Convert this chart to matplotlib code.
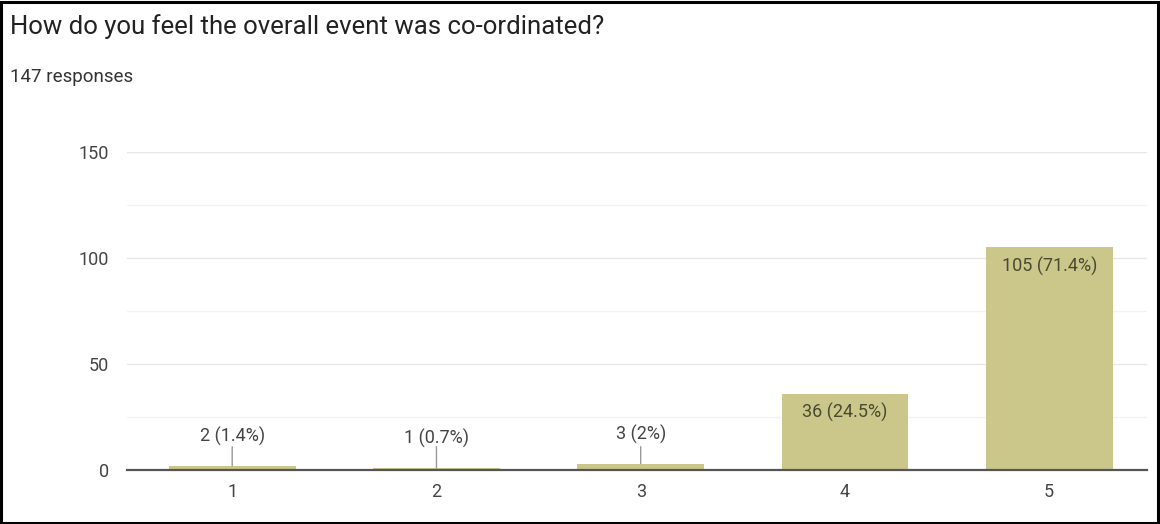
import matplotlib
matplotlib.use("Agg")
import matplotlib.pyplot as plt
from matplotlib.patches import Rectangle

title = "How do you feel the overall event was co-ordinated?"
subtitle = "147 responses"
categories = ["1", "2", "3", "4", "5"]
counts = [2, 1, 3, 36, 105]
labels = ["2 (1.4%)", "1 (0.7%)", "3 (2%)", "36 (24.5%)", "105 (71.4%)"]
yticks = [0, 50, 100, 150]

plt.rcParams['font.family'] = ['Roboto', 'DejaVu Sans']

fig = plt.figure(figsize=(11.6, 5.24), dpi=100)
fig.patch.set_facecolor("white")
ax = fig.add_axes([0.1095, 0.103, 0.8795, 0.607])

x = list(range(len(categories)))
bar_color = "#cbc78b"
ax.bar(x, counts, width=0.62, color=bar_color, zorder=2)

ax.set_xlim(-0.515, 4.48)
ax.set_ylim(0, 150)
ax.set_yticks(yticks)
ax.set_yticks([25, 75, 125], minor=True)
ax.grid(axis='y', which='major', color='#e6e6e6', linewidth=1, zorder=0)
ax.grid(axis='y', which='minor', color='#f2f2f2', linewidth=1, zorder=0)
ax.set_xticks(x)
ax.set_xticklabels(categories)
ax.tick_params(axis='both', which='both', length=0, labelsize=13, colors='#444444')
ax.tick_params(axis='y', pad=13)
ax.tick_params(axis='x', pad=9)
for s in ['top', 'right', 'left']:
    ax.spines[s].set_visible(False)
ax.spines['bottom'].set_color('#555555')
ax.spines['bottom'].set_linewidth(1.6)
ax.spines['bottom'].set_zorder(3)

for xi, c, lab in zip(x, counts, labels):
    if c > 20:
        ax.annotate(lab, (xi, c), xytext=(0, -13.5), textcoords='offset points',
                    ha='center', va='center', fontsize=13, color='#4a4a30', zorder=4)
    else:
        ax.annotate(lab, (xi, c), xytext=(0, 21), textcoords='offset points',
                    ha='center', va='center', fontsize=13, color='#444444', zorder=4)
        ax.annotate("", (xi, c), xytext=(xi, 11), textcoords='data',
                    arrowprops=dict(arrowstyle='-', color='#999999', lw=1, shrinkA=0, shrinkB=0), zorder=4)

fig.text(10/1160, 1 - 27/524, title, fontsize=18.5, color='#222222', ha='left', va='center')
fig.text(10/1160, 1 - 77/524, subtitle, fontsize=13.5, color='#333333', ha='left', va='center')

fig.patches.append(Rectangle((0.001, 0.002), 0.997, 0.995, transform=fig.transFigure,
                             fill=False, edgecolor='black', linewidth=2.2))

fig.savefig("out.png", dpi=100)
